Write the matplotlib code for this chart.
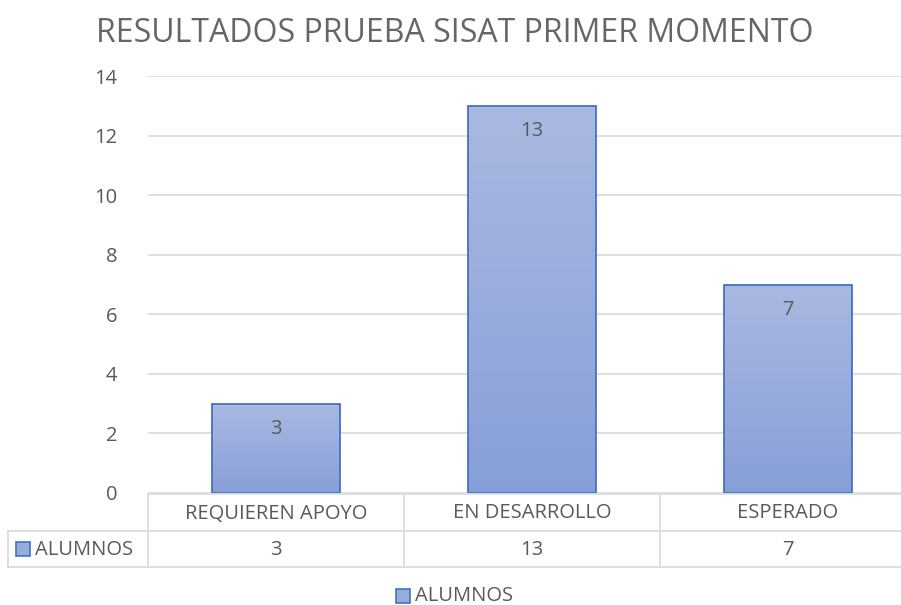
import matplotlib.pyplot as plt
import numpy as np
from matplotlib.colors import LinearSegmentedColormap

plt.rcParams['font.family'] = ['Open Sans', 'DejaVu Sans']

# Data
categories = ['REQUIEREN APOYO', 'EN DESARROLLO', 'ESPERADO']
alumnos = [3, 13, 7]
series_name = 'ALUMNOS'
title = 'RESULTADOS PRUEBA SISAT PRIMER MOMENTO'
yticks = [0, 2, 4, 6, 8, 10, 12, 14]

W, H = 901, 605
txt = '#595959'
grid = '#D9D9D9'
edge = '#4472C4'
fs = 14.5

fig = plt.figure(figsize=(W / 100, H / 100), dpi=100)

# plot area in pixels: x 148..901, y 76..493
left, right, top, bottom = 148, 901, 76, 493
ax = fig.add_axes([left / W, 1 - bottom / H, (right - left) / W, (bottom - top) / H])

col_w = 256.0
ax.set_yticks(yticks)
ax.set_xticks([])
ax.tick_params(axis='y', length=0, labelsize=fs, labelcolor=txt, pad=22)
for s in ax.spines.values():
    s.set_visible(False)
ax.grid(axis='y', color=grid, linewidth=1.2)
ax.set_axisbelow(True)

x = np.arange(len(categories))
cmap = LinearSegmentedColormap.from_list('g', ['#879FD8', '#AAB9E1'])
grad = np.linspace(0, 1, 256).reshape(-1, 1)
bars = ax.bar(x, alumnos, width=0.5, facecolor='none', edgecolor=edge, linewidth=1.3, zorder=3)
for b in bars:
    im = ax.imshow(grad, cmap=cmap, origin='lower', aspect='auto', zorder=2,
                   extent=[b.get_x(), b.get_x() + b.get_width(), 0, b.get_height()])
    im.set_clip_path(b)
    ax.annotate(f'{b.get_height():g}', (b.get_x() + b.get_width() / 2, b.get_height()),
                xytext=(0, -18.5), textcoords='offset points', ha='center', va='center',
                fontsize=fs, color=txt, zorder=4)
ax.set_xlim(-0.5, -0.5 + (right - left) / col_w)
ax.set_ylim(0, 14)

# data table below the axes
def fx(px):
    return px / W

def fy(py):
    return 1 - py / H

row1, row2, row3 = 494, 531, 567
tab_left = 8
lines = [((left, W), (row1, row1)), ((tab_left, W), (row2, row2)), ((tab_left, W), (row3, row3)),
         ((tab_left, tab_left), (row2, row3))]
for i in range(len(categories) + 1):
    xc = left + i * col_w
    if xc < W:
        lines.append(((xc, xc), (row1, row3)))
for (xs, ys) in lines:
    fig.add_artist(plt.Line2D([fx(xs[0]), fx(xs[1])], [fy(ys[0]), fy(ys[1])],
                              color=grid, linewidth=1.2, transform=fig.transFigure))

for i, (cat, v) in enumerate(zip(categories, alumnos)):
    xc = left + (i + 0.5) * col_w
    fig.text(fx(xc), fy((row1 + row2) / 2 + 1), cat, ha='center', va='center', fontsize=fs, color=txt)
    fig.text(fx(xc), fy((row2 + row3) / 2 + 1), f'{v}', ha='center', va='center', fontsize=fs, color=txt)

# legend key
def key(xp, yp):
    fig.add_artist(plt.Rectangle((fx(xp), fy(yp + 14)), 14 / W, 14 / H, facecolor='#98ACDC',
                                 edgecolor=edge, linewidth=1.2, transform=fig.transFigure))

key(16, (row2 + row3) / 2 - 7)
fig.text(fx(35), fy((row2 + row3) / 2 + 1), series_name, ha='left', va='center', fontsize=fs, color=txt)

# bottom legend
key(396, 589)
fig.text(fx(415), fy(596), series_name, ha='left', va='center', fontsize=fs, color=txt)

fig.text(fx(455), fy(33), title, ha='center', va='center', fontsize=23, color='#666666')

plt.savefig('out.png', dpi=100)
